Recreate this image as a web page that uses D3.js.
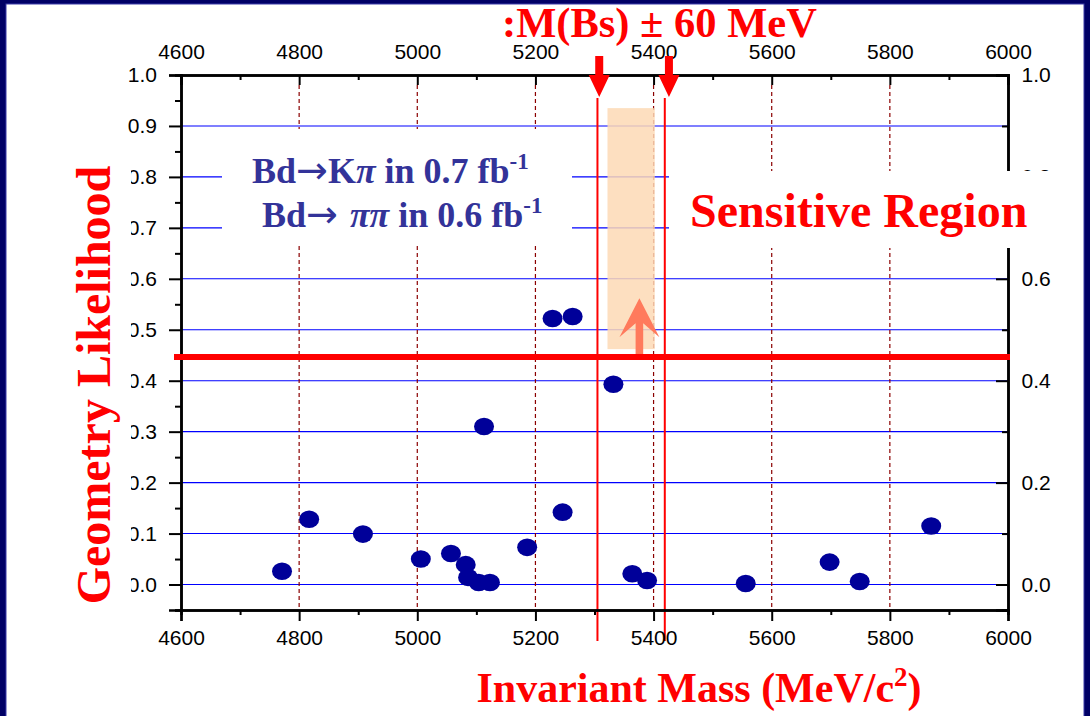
<!DOCTYPE html>
<html>
<head>
<meta charset="utf-8">
<title>Geometry Likelihood vs Invariant Mass</title>
<script src="https://cdn.jsdelivr.net/npm/d3@7"></script>
<style>
  body { margin: 0; background: #000066; }
  svg { display: block; }
</style>
</head>
<body>
<div id="chart"></div>
<script>
// values
var masses      = [4771, 4817, 4908, 5006, 5057, 5082, 5086, 5104, 5123, 5113, 5186,
                   5229, 5263, 5246, 5332, 5364, 5389, 5556, 5698, 5749, 5870];
var likelihoods = [0.026, 0.128, 0.099, 0.050, 0.061, 0.039, 0.014, 0.004, 0.004, 0.310, 0.073,
                   0.522, 0.526, 0.142, 0.393, 0.021, 0.008, 0.002, 0.044, 0.006, 0.115];

var xTicks      = [4600, 4800, 5000, 5200, 5400, 5600, 5800, 6000];
var xMinor      = [4700, 4900, 5100, 5300, 5500, 5700, 5900];
var yTicksLeft  = [0.0, 0.1, 0.2, 0.3, 0.4, 0.5, 0.6, 0.7, 0.8, 0.9, 1.0];
var yMinorLeft  = [-0.05, 0.05, 0.15, 0.25, 0.35, 0.45, 0.55, 0.65, 0.75, 0.85, 0.95];
var yTicksRight = [0.0, 0.2, 0.4, 0.6, 0.8, 1.0];
var yMinorRight = [0.1, 0.3, 0.5, 0.7, 0.9];
var gridLevels  = [0.0, 0.1, 0.2, 0.3, 0.4, 0.5, 0.6, 0.7, 0.8, 0.9];
var dashedMasses = [4800, 5000, 5200, 5400, 5600, 5800];

// mass window and cut
var windowLines  = [5305, 5419];
var windowArrows = [5308, 5426];
var cutLevel = 0.4465;
var bandMass = [5322, 5402];
var bandLevel = [0.462, 0.935];
var upArrowMass = 5376, upArrowTip = 0.562;

var W = 1090, H = 716;
var plotLeft = 181, plotRight = 1008, plotTop = 75, plotBottom = 610;
var serif = "'Liberation Serif', 'Times New Roman', serif";
var sans = "'Liberation Sans', Arial, sans-serif";

var svg = d3.select("#chart").append("svg")
    .attr("width", W).attr("height", H);

// slide frame
svg.append("rect").attr("width", W).attr("height", H).attr("fill", "#000066");
svg.append("rect").attr("x", 6).attr("y", 4).attr("width", 1078).attr("height", H)
    .attr("fill", "#ffffff").attr("stroke", "#3a3aa8").attr("stroke-width", 1);

var x = d3.scaleLinear().domain([4600, 6000]).range([plotLeft, plotRight]);
var y = d3.scaleLinear().domain([-0.05, 1.0]).range([plotBottom, plotTop]);

// horizontal grid
svg.append("g").selectAll("line")
  .data(gridLevels)
  .enter().append("line")
    .attr("x1", plotLeft).attr("x2", plotRight)
    .attr("y1", function(d) { return y(d); })
    .attr("y2", function(d) { return y(d); })
    .attr("stroke", "#0000ff").attr("stroke-width", 1.1);

// vertical dashed lines
svg.append("g").selectAll("line")
  .data(dashedMasses)
  .enter().append("line")
    .attr("x1", function(d) { return x(d); })
    .attr("x2", function(d) { return x(d); })
    .attr("y1", plotTop + 10).attr("y2", plotBottom)
    .attr("stroke", "#8b0000").attr("stroke-width", 1.2)
    .attr("stroke-dasharray", "4,3");

// highlighted band
svg.append("rect")
    .attr("x", x(bandMass[0]))
    .attr("y", y(bandLevel[1]))
    .attr("width", x(bandMass[1]) - x(bandMass[0]))
    .attr("height", y(bandLevel[0]) - y(bandLevel[1]))
    .attr("fill", "#fdd9b5").attr("opacity", 0.85);

// mass window lines
svg.append("g").selectAll("line")
  .data(windowLines)
  .enter().append("line")
    .attr("x1", function(d) { return x(d); })
    .attr("x2", function(d) { return x(d); })
    .attr("y1", 98).attr("y2", 641)
    .attr("stroke", "#ff0000").attr("stroke-width", 2);

// points
svg.append("g").selectAll("ellipse")
  .data(masses)
  .enter().append("ellipse")
    .attr("cx", function(d) { return x(d); })
    .attr("cy", function(d, i) { return y(likelihoods[i]); })
    .attr("rx", 10).attr("ry", 8.8)
    .attr("fill", "#000099");

// axes
function styleAxis(g) {
  g.select(".domain").attr("stroke", "#000").attr("stroke-width", 2.5);
  g.selectAll(".tick line").attr("stroke", "#000").attr("stroke-width", 2);
  g.selectAll("text").attr("font-family", sans).attr("font-size", 21).attr("fill", "#000");
}
svg.append("g").attr("transform", "translate(0," + plotTop + ")")
  .call(d3.axisTop(x).tickValues(xTicks).tickSize(-10).tickPadding(16.5).tickFormat(d3.format("d")))
  .call(styleAxis);
svg.append("g").attr("transform", "translate(0," + plotTop + ")")
  .call(d3.axisTop(x).tickValues(xMinor).tickSize(-5).tickFormat(""))
  .call(styleAxis);
svg.append("g").attr("transform", "translate(0," + plotBottom + ")")
  .call(d3.axisBottom(x).tickValues(xTicks).tickSize(11).tickPadding(9).tickFormat(d3.format("d")))
  .call(styleAxis);
svg.append("g").attr("transform", "translate(0," + plotBottom + ")")
  .call(d3.axisBottom(x).tickValues(xMinor).tickSize(5).tickFormat(""))
  .call(styleAxis);
svg.append("g").attr("transform", "translate(" + plotLeft + ",0)")
  .call(d3.axisLeft(y).tickValues(yTicksLeft).tickSize(12).tickPadding(12).tickFormat(d3.format(".1f")))
  .call(styleAxis);
svg.append("g").attr("transform", "translate(" + plotLeft + ",0)")
  .call(d3.axisLeft(y).tickValues(yMinorLeft).tickSize(6).tickFormat(""))
  .call(styleAxis);
svg.append("g").attr("transform", "translate(" + plotRight + ",0)")
  .call(d3.axisRight(y).tickValues(yTicksRight).tickSize(-12).tickPadding(13.5).tickFormat(d3.format(".1f")))
  .call(styleAxis);
svg.append("g").attr("transform", "translate(" + plotRight + ",0)")
  .call(d3.axisRight(y).tickValues(yMinorRight).tickSize(-6).tickFormat(""))
  .call(styleAxis);

// cut line
svg.append("line")
    .attr("x1", plotLeft - 7).attr("x2", plotRight + 2)
    .attr("y1", y(cutLevel)).attr("y2", y(cutLevel))
    .attr("stroke", "#ff0000").attr("stroke-width", 6);

// up arrow from the cut
var tip = y(upArrowTip) - y(cutLevel);
svg.append("path")
    .attr("transform", "translate(" + x(upArrowMass) + "," + y(cutLevel) + ")")
    .attr("d", "M-3.8,-3 L-3.8," + (tip + 25) + " L-20," + (tip + 39) + " L0," + tip +
               " L20," + (tip + 39) + " L3.8," + (tip + 25) + " L3.8,-3 Z")
    .attr("fill", "#ff7a5c");

// white text boxes on top of the plot
svg.append("rect").attr("x", 60).attr("y", 145).attr("width", 71).attr("height", 470).attr("fill", "#fff");
svg.append("rect").attr("x", 222).attr("y", 129).attr("width", 350).attr("height", 117).attr("fill", "#fff");
svg.append("rect").attr("x", 669).attr("y", 171).attr("width", 400).attr("height", 77).attr("fill", "#fff");

// window arrows
svg.append("g").selectAll("path")
  .data(windowArrows)
  .enter().append("path")
    .attr("transform", function(d) { return "translate(" + x(d) + ",0)"; })
    .attr("d", "M-4,56 L4,56 L4,75 L10.5,75 L0,97 L-10.5,75 L-4,75 Z")
    .attr("fill", "#ff0000");

// texts
svg.append("text")
    .attr("x", 502).attr("y", 37)
    .attr("font-family", serif).attr("font-weight", "bold").attr("font-size", 42.5)
    .attr("fill", "#ff0000")
    .text(":M(Bs) \u00b1 60 MeV");

svg.append("text")
    .attr("x", 690).attr("y", 227)
    .attr("font-family", serif).attr("font-weight", "bold").attr("font-size", 48)
    .attr("fill", "#ff0000")
    .text("Sensitive Region");

svg.append("text")
    .attr("transform", "translate(110,385) rotate(-90)")
    .attr("text-anchor", "middle")
    .attr("font-family", serif).attr("font-weight", "bold").attr("font-size", 48)
    .attr("fill", "#ff0000")
    .text("Geometry Likelihood");

var xt = svg.append("text")
    .attr("x", 699).attr("y", 702)
    .attr("text-anchor", "middle")
    .attr("font-family", serif).attr("font-weight", "bold").attr("font-size", 42)
    .attr("fill", "#ff0000");
xt.append("tspan").text("Invariant Mass (MeV/c");
xt.append("tspan").attr("dy", -16).attr("font-size", 27).text("2");
xt.append("tspan").attr("dy", 16).text(")");

function legendLine(xp, yp, gap, kaon, pis, amount) {
  var t = svg.append("text")
      .attr("x", xp).attr("y", yp)
      .attr("font-family", serif).attr("font-weight", "bold").attr("font-size", 36)
      .attr("fill", "#333399");
  t.append("tspan").text("Bd");
  t.append("tspan").attr("font-family", "'DejaVu Sans', sans-serif").attr("font-weight", "normal")
      .attr("font-size", 38).text("\u2192" + gap);
  t.append("tspan").text(kaon);
  t.append("tspan").attr("font-style", "italic").text(pis);
  t.append("tspan").text(" in " + amount + " fb");
  t.append("tspan").attr("dy", -14).attr("font-size", 23).text("-1");
}
legendLine(252, 183, "", "K", "\u03c0", "0.7");
legendLine(262, 227, " ", "", "\u03c0\u03c0", "0.6");
</script>
</body>
</html>
